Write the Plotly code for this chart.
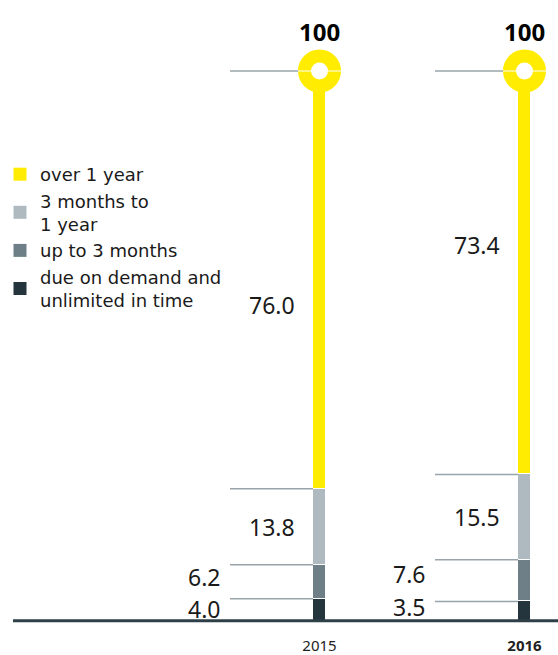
import numpy as np
import plotly.graph_objects as go

# ---- data ----
years = ["2015", "2016"]
year_ticktext = ["2015", "<b>2016</b>"]
series_names = ["due on demand and<br>unlimited in time", "up to 3 months",
                "3 months to<br>1 year", "over 1 year"]
due_on_demand = [4.0, 3.5]
up_to_3_months = [6.2, 7.6]
months3_to_1_year = [13.8, 15.5]
over_1_year = [76.0, 73.4]
totals = [100, 100]

# ---- styling ----
colors = ["#25353d", "#6e7f88", "#aebac0", "#ffec00"]
line_col = "#98a4aa"
text_col = "#1a1a1a"
FONT = "Noto Sans"

W, H = 558, 655
B = 24
px_per_x = 205.0
x0_px = 319.5
x_range = [-x0_px / px_per_x, (W - x0_px) / px_per_x]
px_per_y = 5.497
zero_px = 620.7
plot_h = H - B
y_min = -(plot_h - zero_px) / px_per_y
y_range = [y_min, y_min + plot_h / px_per_y]

bar_w = 13 / px_per_x
line_start = 89.5 / px_per_x
small_lab_off = 97.5 / px_per_x
big_lab_off = 22.5 / px_per_x

xs = np.arange(len(years))
series = [due_on_demand, up_to_3_months, months3_to_1_year, over_1_year]
arr = np.array(series)
tops = np.cumsum(arr, axis=0)
bottoms = tops - arr

fig = go.Figure()
for name, vals, col in zip(series_names, series, colors):
    fig.add_trace(go.Bar(x=xs, y=vals, width=bar_w, name=name, showlegend=False,
                         marker=dict(color=col, line=dict(color="white", width=1)),
                         hoverinfo="skip"))
# legend entries (square swatches)
for name, col in zip(series_names, colors):
    fig.add_trace(go.Scatter(x=[None], y=[None], mode="markers", name=name,
                             marker=dict(symbol="square", size=13, color=col)))

# guide lines at segment tops
lx, ly = [], []
for i in range(len(years)):
    for c in tops[:, i]:
        lx += [xs[i] - line_start, xs[i] - bar_w / 2, None]
        ly += [c, c, None]
fig.add_trace(go.Scatter(x=lx, y=ly, mode="lines", line=dict(color=line_col, width=1.5),
                         showlegend=False, hoverinfo="skip"))

# ring at the total
fig.add_trace(go.Scatter(x=xs, y=totals, mode="markers", showlegend=False, hoverinfo="skip",
                         marker=dict(size=30, color="white",
                                     line=dict(color=colors[3], width=13))))
rx, ry = [], []
for i in range(len(years)):
    rx += [xs[i] - 21.5 / px_per_x, xs[i] + 21.5 / px_per_x, None]
    ry += [totals[i], totals[i], None]
fig.add_trace(go.Scatter(x=rx, y=ry, mode="lines", line=dict(color="white", width=1),
                         showlegend=False, hoverinfo="skip"))

# labels
yshifts = [[1, 4], [5, 7], [0, 0], [-25, 28]]
ann = []
for k in range(len(series)):
    for i in range(len(years)):
        off = small_lab_off if k < 2 else big_lab_off
        ann.append(dict(x=xs[i] - off, y=bottoms[k, i] + arr[k, i] / 2,
                        text=f"{arr[k, i]:.1f}", showarrow=False, xanchor="right",
                        yanchor="middle", yshift=yshifts[k][i],
                        font=dict(family=FONT, size=23, color=text_col)))
for i in range(len(years)):
    ann.append(dict(x=xs[i], y=totals[i], text=f"<b>{totals[i]}</b>", showarrow=False,
                    xanchor="center", yanchor="middle", yshift=40,
                    font=dict(family=FONT, size=24, color="#000000")))

fig.add_shape(type="line", xref="x", yref="y", x0=(13 - x0_px) / px_per_x, x1=x_range[1],
              y0=0, y1=0, line=dict(color="#2f3f48", width=3), layer="above")

fig.update_layout(
    width=W, height=H, margin=dict(l=0, r=0, t=0, b=B, autoexpand=False),
    paper_bgcolor="white", plot_bgcolor="white",
    barmode="stack", bargap=0,
    annotations=ann,
    showlegend=True,
    legend=dict(x=0.0, xanchor="left", y=1 - 156 / plot_h, yanchor="top",
                traceorder="reversed", font=dict(family="DejaVu Sans", size=18, color=text_col),
                bgcolor="rgba(0,0,0,0)", itemclick=False, itemdoubleclick=False),
    xaxis=dict(range=x_range, tickvals=list(xs), ticktext=year_ticktext,
               showgrid=False, zeroline=False, showline=False, ticks="",
               ticklabelstandoff=4, automargin=False,
               tickfont=dict(family=FONT, size=15, color="#222222"), fixedrange=True),
    yaxis=dict(range=y_range, visible=False, showgrid=False, zeroline=False,
               automargin=False, fixedrange=True),
)

fig.write_html("out.html")
